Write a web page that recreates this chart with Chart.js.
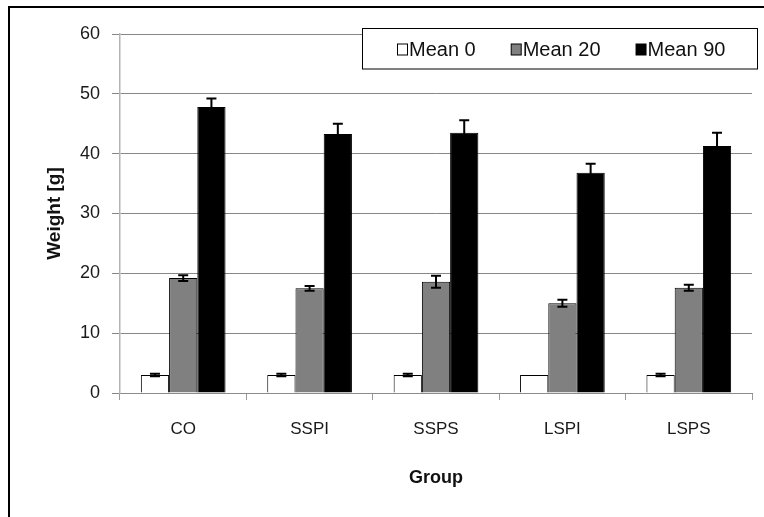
<!DOCTYPE html>
<html>
<head>
<meta charset="utf-8">
<script src="https://cdn.jsdelivr.net/npm/chart.js@4/dist/chart.umd.min.js"></script>
<style>
  html, body { margin: 0; padding: 0; background: #fff; }
  #wrap { width: 764px; height: 517px; }
</style>
</head>
<body>
<div id="wrap"><canvas id="chart" width="764" height="517"></canvas></div>
<script>
// values
const categories = ['CO', 'SSPI', 'SSPS', 'LSPI', 'LSPS'];
const seriesNames = ['Mean 0', 'Mean 20', 'Mean 90'];
const mean0 = [3.0, 3.0, 3.0, 3.0, 3.0];
const mean20 = [19.2, 17.5, 18.6, 15.0, 17.6];
const mean90 = [47.8, 43.3, 43.5, 36.8, 41.3];
const err0 = [0.2, 0.2, 0.2, 0, 0.2];
const err20 = [0.5, 0.4, 1.0, 0.6, 0.5];
const err90 = [1.4, 1.7, 2.1, 1.5, 2.2];
const yTicks = [0, 10, 20, 30, 40, 50, 60];

const FONT = "'Liberation Sans', Arial, sans-serif";
const errors = [err0, err20, err90];

// frame round the whole figure (cut off right and bottom in the original)
const framePlugin = {
    id: 'frame',
    beforeDraw(chart) {
        const ctx = chart.ctx;
        ctx.save();
        ctx.fillStyle = '#fff';
        ctx.fillRect(0, 0, chart.width, chart.height);
        ctx.strokeStyle = '#000';
        ctx.lineWidth = 2;
        ctx.strokeRect(9, 7, chart.width + 20, chart.height + 20);
        ctx.restore();
    }
};

// error bars, drawn from the bar elements and the y scale
const errorBarPlugin = {
    id: 'errorBars',
    afterDatasetsDraw(chart) {
        const ctx = chart.ctx;
        const y = chart.scales.y;
        ctx.save();
        ctx.strokeStyle = '#000';
        ctx.lineWidth = 2;
        chart.data.datasets.forEach((ds, i) => {
            const meta = chart.getDatasetMeta(i);
            meta.data.forEach((bar, j) => {
                const e = errors[i][j];
                if (!e) return;
                const v = ds.data[j];
                const top = y.getPixelForValue(v + e);
                const bot = y.getPixelForValue(v - e);
                ctx.beginPath();
                ctx.moveTo(bar.x, top);
                ctx.lineTo(bar.x, bot);
                ctx.moveTo(bar.x - 5, top);
                ctx.lineTo(bar.x + 5, top);
                ctx.moveTo(bar.x - 5, bot);
                ctx.lineTo(bar.x + 5, bot);
                ctx.stroke();
            });
        });
        ctx.restore();
    }
};

// boxed legend inside the top of the plot
const boxLegendPlugin = {
    id: 'boxLegend',
    afterDraw(chart) {
        const ctx = chart.ctx;
        const boxX = 362.5, boxY = 28.5, boxW = 395, boxH = 40.5;
        ctx.save();
        ctx.fillStyle = '#fff';
        ctx.fillRect(boxX, boxY, boxW, boxH);
        ctx.strokeStyle = '#000';
        ctx.lineWidth = 1;
        ctx.strokeRect(boxX, boxY, boxW, boxH);
        ctx.font = '20px ' + FONT;
        ctx.textBaseline = 'middle';
        let x = 397;
        const cy = 49.5;
        chart.data.datasets.forEach(ds => {
            ctx.fillStyle = ds.backgroundColor;
            ctx.fillRect(x + 0.5, cy - 5.5, 10, 11);
            ctx.strokeStyle = '#000';
            ctx.strokeRect(x + 0.5, cy - 5.5, 10, 11);
            ctx.fillStyle = '#111';
            ctx.fillText(ds.label, x + 12, cy + 1);
            x += 12 + ctx.measureText(ds.label).width + 35;
        });
        ctx.restore();
    }
};

const colors = ['#ffffff', '#808080', '#000000'];
const values = [mean0, mean20, mean90];

new Chart(document.getElementById('chart'), {
    type: 'bar',
    data: {
        labels: categories,
        datasets: seriesNames.map((name, i) => ({
            label: name,
            data: values[i],
            backgroundColor: colors[i],
            borderColor: '#000',
            borderWidth: 1,
            barPercentage: 1,
            categoryPercentage: 0.67
        }))
    },
    options: {
        responsive: false,
        animation: false,
        layout: { padding: { top: 34, right: 12, left: 0, bottom: 0 } },
        plugins: {
            legend: { display: false },
            tooltip: { enabled: false }
        },
        scales: {
            x: {
                afterFit(scale) { scale.height = 124; },
                grid: { drawOnChartArea: false, drawTicks: true, tickLength: 7, color: '#9a9a9a', offset: true },
                border: { color: '#8c8c8c', width: 1 },
                ticks: { font: { family: FONT, size: 17 }, color: '#1a1a1a', padding: 19 },
                title: {
                    display: true, text: 'Group',
                    font: { family: FONT, size: 18, weight: 'bold' }, color: '#111',
                    padding: { top: 0, bottom: 28 }
                }
            },
            y: {
                min: 0, max: 60,
                afterFit(scale) { scale.width = 120; },
                afterBuildTicks(scale) { scale.ticks = yTicks.map(v => ({ value: v })); },
                grid: { color: '#878787', lineWidth: 1, tickLength: 8 },
                border: { color: '#b4b4b4', width: 1.5 },
                ticks: { font: { family: FONT, size: 18 }, color: '#1a1a1a', padding: 12 },
                title: {
                    display: true, text: 'Weight [g]',
                    font: { family: FONT, size: 19, weight: 'bold' }, color: '#111',
                    padding: { top: 43, bottom: 0 }
                }
            }
        }
    },
    plugins: [framePlugin, errorBarPlugin, boxLegendPlugin]
});
</script>
</body>
</html>
